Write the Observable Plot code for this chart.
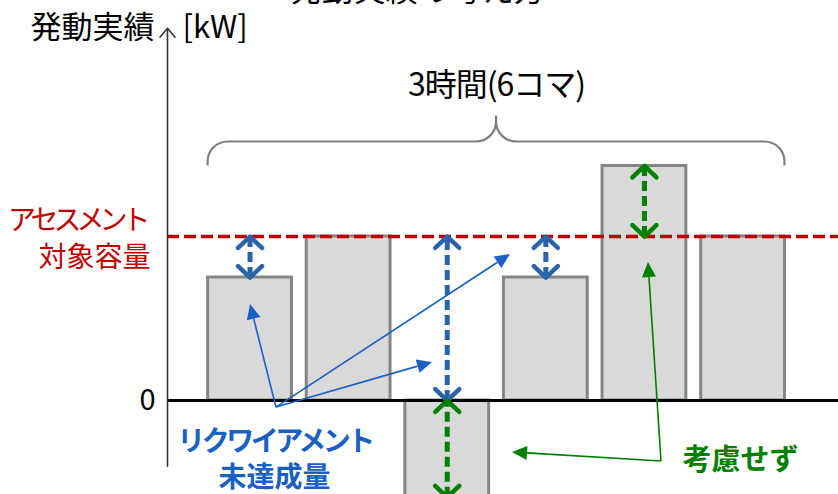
<!DOCTYPE html>
<html><head><meta charset="utf-8">
<script src="https://cdn.jsdelivr.net/npm/d3@7"></script>
<script src="https://cdn.jsdelivr.net/npm/@observablehq/plot@0.6"></script>
<style>
body{margin:0;background:#fff}
</style>
</head><body><div id="chart"></div>
<script>
// ---- data ----
const slots = [1, 2, 3, 4, 5, 6];             // 30-minute slots (6コマ)
const output = [75, 100, -59, 75, 143, 100];  // 発動実績 (relative units)
const capacity = 100;                          // アセスメント対象容量
const yTicks = [0];
const titleText = "発動実績の考え方";
const yLabel = "発動実績";
const yUnit = "[kW]";
const spanLabel = "3時間(6コマ)";
const capacityLabel = "アセスメント\n対象容量";
const shortfallLabel = "リクワイアメント\n未達成量";
const ignoredLabel = "考慮せず";

// annotation anchors (data coordinates)
const blueCallout = {from: [1.268, -4.3], to: [[1.005, 58.5], [2.851, 23.2], [3.642, 89]]};
const greenCallout = {from: [5.173, -37.2], to: [[5.041, 84.1], [3.662, -31.7]]};

// ---- derived ----
const barHalf = 0.425;
const xDomain = [0.163, 6.968];
const yDomain = [-57.3, 243.9];
const axisTop = 227, axisBottom = -40;
const bars = slots.map((s, i) => ({slot: s, value: output[i]}));
const shortfall = bars.filter(d => d.value < capacity)
  .map(d => ({slot: d.slot, from: Math.max(d.value, 0), to: capacity}));
const ignored = [
  ...bars.filter(d => d.value > capacity).map(d => ({slot: d.slot, from: capacity, to: d.value})),
  ...bars.filter(d => d.value < 0).map(d => ({slot: d.slot, from: d.value, to: 0}))
];
const heads = arr => arr.flatMap(a => [
  {slot: a.slot, y: Math.min(a.from, a.to), rot: 180},
  {slot: a.slot, y: Math.max(a.from, a.to), rot: 0}
]);

const chevron = {
  draw(ctx, size) {
    const r = Math.sqrt(size / Math.PI);
    ctx.moveTo(-r, r * 0.95);
    ctx.lineTo(0, 0);
    ctx.lineTo(r, r * 0.95);
  }
};

const BLUE_ARROW = "#2b64a6";
const BLUE = "#1a5fc4";
const GREEN = "#008000";
const RED = "#c00000";
const FONT = "'Noto Sans CJK JP', 'Noto Sans', sans-serif";

function brace(index, scales) {
  const x1 = scales.x(slots[0] - barHalf), x2 = scales.x(slots[slots.length - 1] + barHalf);
  const xm = scales.x(d3.mean(slots));
  const yb = scales.y(d3.max(output));
  const yh = yb - 24, r = 20, cusp = 26;
  const p = d3.path();
  p.moveTo(x1, yb);
  p.lineTo(x1, yh + r);
  p.arcTo(x1, yh, x1 + r, yh, r);
  p.lineTo(xm - r, yh);
  p.arcTo(xm, yh, xm, yh - r, r);
  p.lineTo(xm, yh - cusp);
  p.moveTo(xm, yh - r);
  p.arcTo(xm, yh, xm + r, yh, r);
  p.lineTo(x2 - r, yh);
  p.arcTo(x2, yh, x2, yh + r, r);
  p.lineTo(x2, yb);
  return d3.create("svg:path").attr("d", p.toString()).attr("fill", "none")
    .attr("stroke", "#7f7f7f").attr("stroke-width", 2.2).node();
}

function callout(c, color, width, headLen, headW) {
  return (index, scales) => {
    const g = d3.create("svg:g");
    const x0 = scales.x(c.from[0]), y0 = scales.y(c.from[1]);
    for (const t of c.to) {
      const x1 = scales.x(t[0]), y1 = scales.y(t[1]);
      const a = Math.atan2(y1 - y0, x1 - x0);
      const bx = x1 - headLen * Math.cos(a), by = y1 - headLen * Math.sin(a);
      g.append("line").attr("x1", x0).attr("y1", y0).attr("x2", bx).attr("y2", by)
        .attr("stroke", color).attr("stroke-width", width);
      g.append("path")
        .attr("d", `M${x1},${y1}L${bx + headW * Math.sin(a)},${by - headW * Math.cos(a)}L${bx - headW * Math.sin(a)},${by + headW * Math.cos(a)}Z`)
        .attr("fill", color);
    }
    return g.node();
  };
}

const chart = Plot.plot({
  width: 838,
  height: 494,
  marginLeft: 167,
  marginRight: 0,
  marginTop: 0,
  marginBottom: 0,
  style: {fontFamily: FONT, background: "#fff", overflow: "hidden"},
  x: {domain: xDomain, axis: null},
  y: {domain: yDomain},
  marks: [
    Plot.rect(bars, {x1: d => d.slot - barHalf, x2: d => d.slot + barHalf, y1: 0, y2: "value",
      fill: "#d9d9d9", stroke: "#858585", strokeWidth: 3}),
    Plot.ruleY([0], {stroke: "#000", strokeWidth: 3}),
    Plot.ruleY([capacity], {stroke: RED, strokeWidth: 3.5, strokeDasharray: "12,5"}),
    Plot.arrow([0], {x1: xDomain[0], x2: xDomain[0], y1: axisBottom, y2: axisTop,
      stroke: "#333", strokeWidth: 1.6, headLength: 11, headAngle: 80}),
    Plot.axisY({ticks: yTicks, tickSize: 0, tickPadding: 12, fontSize: 29, label: null}),
    // shortfall (blue) double arrows
    Plot.ruleX(shortfall, {x: "slot", y1: "from", y2: "to", stroke: BLUE_ARROW, strokeWidth: 5, strokeDasharray: "10,5"}),
    Plot.dot(heads(shortfall), {x: "slot", y: "y", rotate: "rot", symbol: chevron, r: 12,
      fill: "none", stroke: BLUE_ARROW, strokeWidth: 4.5, strokeLinecap: "round", strokeLinejoin: "round"}),
    // ignored (green) double arrows
    Plot.ruleX(ignored, {x: "slot", y1: "from", y2: "to", stroke: GREEN, strokeWidth: 5, strokeDasharray: "10,5"}),
    Plot.dot(heads(ignored), {x: "slot", y: "y", rotate: "rot", symbol: chevron, r: 12,
      fill: "none", stroke: GREEN, strokeWidth: 4.5, strokeLinecap: "round", strokeLinejoin: "round"}),
    brace,
    callout(blueCallout, BLUE, 1.6, 15, 7),
    callout(greenCallout, GREEN, 1.6, 15, 7),
    // texts
    Plot.text([titleText], {x: 2.7, frameAnchor: "top", lineAnchor: "bottom", text: d => d, fontSize: 32, fill: "#000", dy: 0}),
    Plot.text([yLabel], {x: xDomain[0], y: axisTop, text: d => d, textAnchor: "end", dx: -13, fontSize: 31, fill: "#000"}),
    Plot.text([yUnit], {x: xDomain[0], y: axisTop, text: d => d, textAnchor: "start", dx: 15, fontSize: 31, fill: "#000"}),
    Plot.text([spanLabel], {x: d3.mean(slots), y: d3.max(output), text: d => d, dy: -80, fontSize: 32, fill: "#000"}),
    Plot.text([capacityLabel], {x: xDomain[0], y: capacity, text: d => d, textAnchor: "end", dx: -17,
      lineHeight: 1.32, fontSize: 28, fill: RED}),
    Plot.text([shortfallLabel], {x: 1.248, y: -34.5, text: d => d, lineHeight: 1.3, fontSize: 28,
      fontWeight: "bold", fill: BLUE}),
    Plot.text([ignoredLabel], {x: 5.974, y: -36.6, text: d => d, fontSize: 29, fontWeight: "bold", fill: GREEN})
  ]
});

// proportional katakana spacing, as in the reference typeface
const squeeze = {"アセスメント": -5, "リクワイアメント": -3.5, "3時間(6コマ)": -1};
d3.select(chart).selectAll("text, tspan").each(function() {
  if (this.childElementCount === 0 && squeeze[this.textContent] != null) {
    this.style.letterSpacing = squeeze[this.textContent] + "px";
    if (this.textContent === "アセスメント") this.setAttribute("dx", -5);
  }
});
document.getElementById("chart").append(chart);
</script>
</body></html>
